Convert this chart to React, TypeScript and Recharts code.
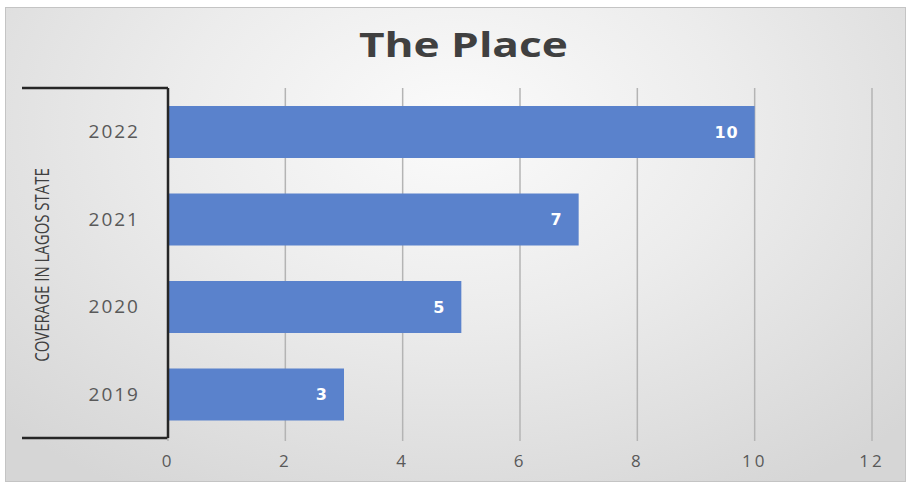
import { BarChart, Bar, XAxis, YAxis, CartesianGrid, LabelList } from 'recharts';

const years = ['2022', '2021', '2020', '2019'];
const coverage = [10, 7, 5, 3];
const xTicks = [0, 2, 4, 6, 8, 10, 12];

const data = years.map((year, i) => ({ year, coverage: coverage[i] }));

const AxisTitle = (props: any) => {
  const { viewBox } = props;
  const cx = 42;
  const cy = viewBox.y + viewBox.height / 2 + 2;
  return (
    <text
      x={0}
      y={0}
      transform={`translate(${cx} ${cy}) rotate(-90) scale(0.88 1.12)`}
      textAnchor="middle"
      dominantBaseline="central"
      fill="#404040"
      style={{ fontFamily: '"Open Sans", sans-serif', fontSize: 17 }}
    >
      COVERAGE IN LAGOS STATE
    </text>
  );
};

export default function App() {
  return (
    <div style={{ position: 'absolute', left: 0, top: 0, width: 906, height: 482, background: '#fff', overflow: 'hidden' }}>
      <div
        style={{
          position: 'absolute', left: 5, top: 7, width: 901, height: 475, boxSizing: 'border-box',
          border: '1px solid #c4c4c4',
          background: 'radial-gradient(ellipse 70% 90% at 50% 25%, #fbfbfb 0%, #ececec 45%, #d6d6d6 100%)',
        }}
      />
      <div
        style={{
          position: 'absolute', left: 10, top: 21, width: 906, textAlign: 'center',
          fontFamily: '"Open Sans", sans-serif', fontWeight: 700, fontSize: 34, color: '#404040',
        }}
      >
        <span style={{ display: 'inline-block', transform: 'scaleX(1.3)' }}>The Place</span>
      </div>
      <svg style={{ position: 'absolute', left: 0, top: 0 }} width={906} height={482}>
        <line x1={22} y1={88} x2={168} y2={88} stroke="#262626" strokeWidth={2.5} />
        <line x1={22} y1={438} x2={168} y2={438} stroke="#262626" strokeWidth={2.5} />
      </svg>
      <div style={{ position: 'absolute', left: 0, top: 0 }}>
        <BarChart
          width={906}
          height={482}
          data={data}
          layout="vertical"
          margin={{ top: 88, right: 34, bottom: 14, left: 22 }}
        >
          <CartesianGrid horizontal={false} vertical stroke="#b4b4b4" strokeWidth={1.5} />
          <XAxis
            type="number"
            domain={[0, 12]}
            ticks={xTicks}
            height={30}
            axisLine={false}
            tickLine={{ stroke: '#b4b4b4', strokeWidth: 1.5 }}
            tickSize={3}
            tickMargin={14}
            tick={{ fill: '#595959', fontSize: 17, fontFamily: '"Open Sans", sans-serif', letterSpacing: 3 }}
          />
          <YAxis
            type="category"
            dataKey="year"
            width={146}
            axisLine={{ stroke: '#262626', strokeWidth: 2.5 }}
            tickLine={false}
            tickMargin={22}
            tick={{ fill: '#595959', fontSize: 19, fontFamily: '"Open Sans", sans-serif', letterSpacing: 2 }}
            label={<AxisTitle />}
          />
          <Bar dataKey="coverage" fill="#5a82cc" barSize={52} isAnimationActive={false}>
            <LabelList
              dataKey="coverage"
              position="insideRight"
              offset={16}
              fill="#ffffff"
              style={{ fontFamily: '"DejaVu Sans", sans-serif', fontWeight: 700, fontSize: 16, letterSpacing: 1 }}
            />
          </Bar>
        </BarChart>
      </div>
    </div>
  );
}
